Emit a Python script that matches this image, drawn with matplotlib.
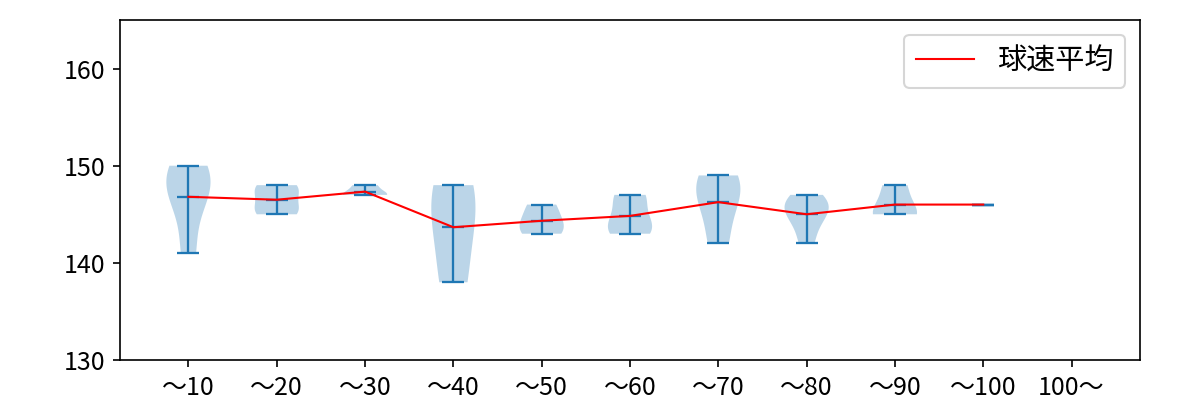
import numpy as np
import matplotlib
matplotlib.use("Agg")
import matplotlib.pyplot as plt

plt.rcParams['font.family'] = ['Noto Sans CJK JP', 'DejaVu Sans']

# pitch count bins
labels = ["〜10", "〜20", "〜30", "〜40", "〜50", "〜60", "〜70", "〜80", "〜90", "〜100", "100〜"]

# pitch speeds (km/h) per bin
speeds_10 = [141, 146, 148, 149, 150]
speeds_20 = [145, 145, 146, 147, 148, 148]
speeds_30 = [147, 147, 148]
speeds_40 = [138, 145, 148]
speeds_50 = [143, 144, 146]
speeds_60 = [143, 143, 144, 145, 147, 147]
speeds_70 = [142, 146, 148, 149]
speeds_80 = [142, 144, 145, 146, 146, 147]
speeds_90 = [145, 145, 148]
speeds_100 = [146]

data = [speeds_10, speeds_20, speeds_30, speeds_40, speeds_50,
        speeds_60, speeds_70, speeds_80, speeds_90, speeds_100]
positions = np.arange(1, len(data) + 1)
means = [np.mean(d) for d in data]

fig, ax = plt.subplots(figsize=(8, 8 / 3), dpi=150)
fig.subplots_adjust(left=0.1, right=0.95, top=0.95, bottom=0.1)

parts = ax.violinplot(data, positions=positions, showmeans=True, showextrema=True)
for key in ['cbars', 'cmins', 'cmaxes', 'cmeans']:
    parts[key].set_linewidth(1.1)
ax.plot(positions, means, color='red', linewidth=1, label='球速平均')

ax.set_xticks(np.arange(1, len(labels) + 1))
ax.set_xticklabels(labels)
ax.set_xlim(0.225, 11.775)
ax.set_ylim(130, 165)
ax.set_yticks([130, 140, 150, 160])
ax.tick_params(labelsize=12)
ax.legend(loc='upper right', fontsize=14)

plt.savefig("out.png")
